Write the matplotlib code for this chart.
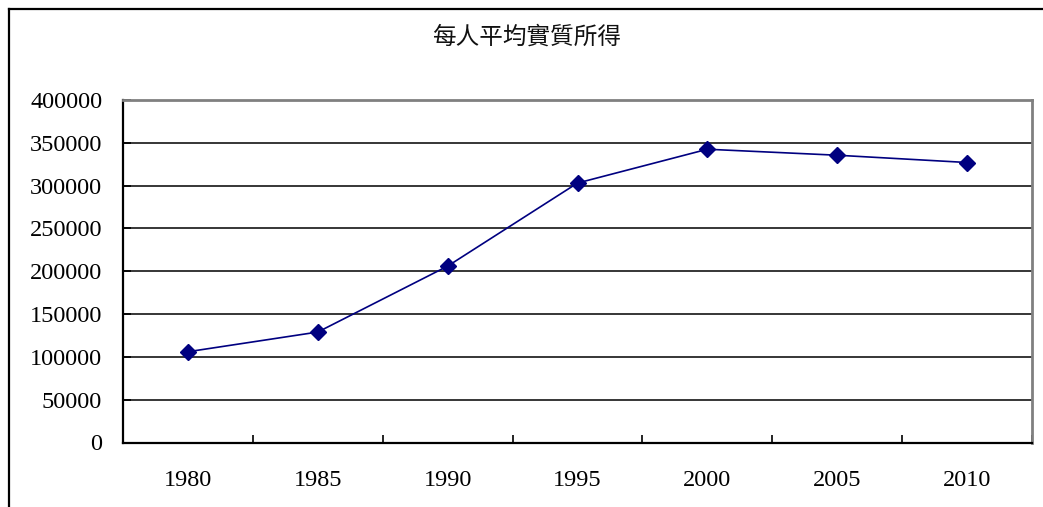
import matplotlib
matplotlib.use("Agg")
import matplotlib.pyplot as plt
from matplotlib.lines import Line2D

years = ["1980", "1985", "1990", "1995", "2000", "2005", "2010"]
income = [106000, 129000, 206000, 303000, 342500, 335500, 327000]
yticks = [0, 50000, 100000, 150000, 200000, 250000, 300000, 350000, 400000]
title = "每人平均實質所得"

W, H = 1043, 507
fig = plt.figure(figsize=(W / 100, H / 100), dpi=100)
ax = fig.add_axes([123 / W, 1 - 442.5 / H, (1032 - 123) / W, (442.5 - 100) / H])

x = list(range(len(years)))
ax.plot(x, income, color="#000080", lw=1.2, marker="D", ms=8,
        markerfacecolor="#000080", markeredgecolor="#000080", zorder=3)

ax.set_xlim(-0.5, len(years) - 0.5)
ax.set_ylim(0, 400000)

# category boundary ticks (no labels), labels at category centres
ax.set_xticks([i - 0.5 for i in range(len(years) + 1)])
ax.set_xticklabels([])
ax.set_xticks(x, minor=True)
ax.set_xticklabels(years, minor=True, fontfamily="Liberation Serif", fontsize=17.5)
ax.tick_params(axis="x", which="major", direction="in", length=6, width=1.2, color="black")
ax.tick_params(axis="x", which="minor", length=0, pad=20)

ax.set_yticks(yticks)
ax.set_yticklabels([str(v) for v in yticks], fontfamily="Liberation Serif", fontsize=17.5)
ax.tick_params(axis="y", direction="in", length=6, width=1.2, pad=15, color="black")

ax.grid(axis="y", color="black", lw=1.1)
ax.set_axisbelow(True)

for side in ("left", "bottom"):
    ax.spines[side].set_color("black")
    ax.spines[side].set_linewidth(1.6)
for side in ("top", "right"):
    ax.spines[side].set_color("#808080")
    ax.spines[side].set_linewidth(2)

fig.text(527 / W, 1 - 37 / H, title, ha="center", va="center", fontsize=17,
         family=["Noto Sans CJK TC", "DejaVu Sans"], color="#111111")

# outer chart border (only left and top edges fall inside the image)
fig.add_artist(Line2D([9 / W, 9 / W], [0, 1 - 9 / H], color="black", lw=1.6))
fig.add_artist(Line2D([9 / W, 1], [1 - 9 / H, 1 - 9 / H], color="black", lw=1.6))

fig.savefig("out.png", dpi=100)
